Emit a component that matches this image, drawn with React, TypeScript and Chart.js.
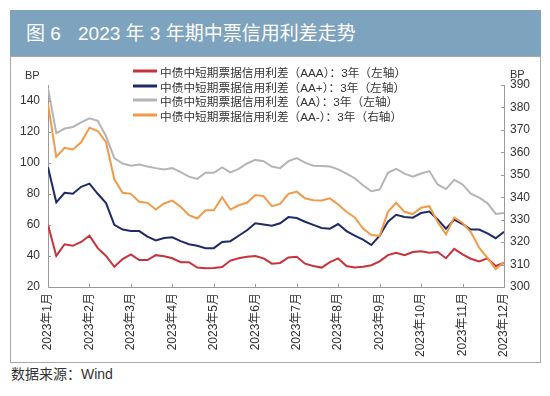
import React, { useEffect, useRef } from "react";
import { Chart, registerables } from "chart.js";

Chart.register(...registerables);

// x positions in month units (0 = 2023年1月, 11 = 2023年12月)
const monthLabels = [
  "2023年1月", "2023年2月", "2023年3月", "2023年4月", "2023年5月", "2023年6月",
  "2023年7月", "2023年8月", "2023年9月", "2023年10月", "2023年11月", "2023年12月",
];
const datePos = Array.from({ length: 56 }, (_, i) => i / 5);

// 中债中短期票据信用利差（AAA）：3年（左轴）
const aaa = [
  60, 40, 47.5, 46.5, 49, 53, 45, 40, 33, 38,
  41, 37.3, 37.3, 40.5, 39.8, 38.5, 36, 36, 32.5, 32,
  32.2, 32.8, 37, 38.5, 39.5, 40, 38.4, 35, 35.5, 39,
  39.5, 35, 33.5, 32.5, 36, 38.4, 33.5, 32.5, 33, 34,
  36.5, 40.5, 42, 40.5, 42.5, 43, 42, 42.5, 38.5, 44.5,
  41, 38.2, 36.5, 38.4, 33.5, 35.5,
];
// （AA+）：3年（左轴）
const aaPlus = [
  97, 74.5, 80.6, 80, 84.5, 86.5, 80, 74, 60, 57,
  56, 56, 52.4, 50, 51.5, 52, 49.5, 47.5, 46.5, 45,
  45, 49, 49.5, 53, 56.5, 61, 60.2, 59.5, 61, 65,
  64.4, 62, 60, 58, 57.5, 60.5, 56, 53, 50.5, 47,
  53, 62, 66.5, 65, 64.6, 67.6, 68.5, 63.5, 57.5, 63.3,
  60.5, 57, 57, 54.5, 51.4, 55.5,
];
// （AA）：3年（左轴）
const aa = [
  148, 119, 122, 123, 126, 128.5, 127, 117, 103, 99.5,
  98, 98.8, 97.5, 96.5, 95.7, 96.5, 94, 91, 89.6, 93.5,
  93.5, 97, 93.8, 96, 99.5, 101.8, 101, 97.5, 96.5, 101,
  103, 100, 98, 97.8, 97.5, 95.7, 93, 90, 85.5, 81.6,
  82.7, 93.5, 96, 93, 91, 93, 94.6, 86, 83, 89,
  86, 80, 77.5, 74, 67, 67.6,
];
// （AA-）：3年（右轴）
const aaMinus = [
  381.5, 358, 362, 361.3, 364.5, 371, 369.5, 364.5, 348, 342,
  341.5, 338, 337.5, 334.5, 337.2, 338.5, 335.7, 332, 330.5, 334.2,
  334.2, 340, 334.5, 336.4, 337.5, 341, 340.5, 336, 337, 341.5,
  342.5, 339.5, 338.7, 338.5, 339.5, 336.8, 333.5, 331, 326, 323.2,
  322.8, 333.5, 337.5, 333.5, 332.5, 335.3, 336, 329, 323.5, 331,
  328.5, 324.5, 317.5, 313, 308, 311,
];

const leftTicks = [20, 40, 60, 80, 100, 120, 140];
const rightTicks = [300, 310, 320, 330, 340, 350, 360, 370, 380, 390];

const seriesNames = [
  "中债中短期票据信用利差（AAA）：3年（左轴）",
  "中债中短期票据信用利差（AA+）：3年（左轴）",
  "中债中短期票据信用利差（AA）：3年（左轴）",
  "中债中短期票据信用利差（AA-）：3年（右轴）",
];
const colors = ["#c8323a", "#1f2a66", "#b5b5b5", "#f29a48"];

const FONT = '"Liberation Sans", "Noto Sans CJK SC", sans-serif';
const AXIS = "#9a9a9a";

const innerTicks = {
  id: "innerTicks",
  afterDatasetsDraw(chart: any) {
    const { ctx, chartArea: a, scales } = chart;
    ctx.save();
    ctx.strokeStyle = AXIS;
    ctx.lineWidth = 1;
    ctx.beginPath();
    scales.x.ticks.forEach((t: any) => {
      const px = Math.round(scales.x.getPixelForValue(t.value)) + 0.5;
      ctx.moveTo(px, a.bottom);
      ctx.lineTo(px, a.bottom - 3);
    });
    scales.y.ticks.forEach((t: any) => {
      const py = Math.round(scales.y.getPixelForValue(t.value)) + 0.5;
      ctx.moveTo(a.left, py);
      ctx.lineTo(a.left + 3, py);
    });
    scales.y1.ticks.forEach((t: any) => {
      const py = Math.round(scales.y1.getPixelForValue(t.value)) + 0.5;
      ctx.moveTo(a.right, py);
      ctx.lineTo(a.right - 3, py);
    });
    ctx.stroke();
    ctx.restore();
  },
};

export default function App() {
  const ref = useRef<HTMLCanvasElement | null>(null);

  useEffect(() => {
    if (!ref.current) return;
    const mk = (vals: number[]) => vals.map((v, i) => ({ x: datePos[i], y: v }));
    const tickFont = { family: FONT, size: 12 };
    const chart = new Chart(ref.current, {
      type: "line",
      data: {
        datasets: [
          { label: seriesNames[0], data: mk(aaa), yAxisID: "y", borderColor: colors[0], order: 1 },
          { label: seriesNames[1], data: mk(aaPlus), yAxisID: "y", borderColor: colors[1], order: 2 },
          { label: seriesNames[2], data: mk(aa), yAxisID: "y", borderColor: colors[2], order: 3 },
          { label: seriesNames[3], data: mk(aaMinus), yAxisID: "y1", borderColor: colors[3], order: 0 },
        ].map((d) => ({ ...d, borderWidth: 2, pointRadius: 0, tension: 0, fill: false })),
      },
      options: {
        animation: false,
        responsive: false,
        maintainAspectRatio: false,
        layout: { padding: { top: 28, left: 0, right: 0, bottom: 0 } },
        plugins: { legend: { display: false }, tooltip: { enabled: false } },
        scales: {
          x: {
            type: "linear",
            min: 0,
            max: 11,
            afterBuildTicks: (s: any) => {
              s.ticks = monthLabels.map((_, i) => ({ value: i }));
            },
            afterFit: (s: any) => {
              s.height = 75;
            },
            ticks: {
              callback: (v: any) => monthLabels[Math.round(Number(v))],
              minRotation: 90,
              maxRotation: 90,
              autoSkip: false,
              font: tickFont,
              color: "#333",
              padding: 6,
            },
            grid: { display: true, drawOnChartArea: false, drawTicks: false, color: AXIS },
            border: { display: true, color: AXIS, width: 1 },
          },
          y: {
            position: "left",
            min: 20,
            max: 150,
            afterBuildTicks: (s: any) => {
              s.ticks = leftTicks.map((v) => ({ value: v }));
            },
            afterFit: (s: any) => {
              s.width = 37;
            },
            ticks: { font: tickFont, color: "#333", padding: 8 },
            grid: { display: true, drawOnChartArea: false, drawTicks: false, color: AXIS },
            border: { display: true, color: AXIS, width: 1 },
          },
          y1: {
            position: "right",
            min: 300,
            max: 390,
            afterBuildTicks: (s: any) => {
              s.ticks = rightTicks.map((v) => ({ value: v }));
            },
            afterFit: (s: any) => {
              s.width = 36;
            },
            ticks: { font: tickFont, color: "#333", padding: 6 },
            grid: { display: true, drawOnChartArea: false, drawTicks: false, color: AXIS },
            border: { display: true, color: AXIS, width: 1 },
          },
        },
      } as any,
      plugins: [innerTicks],
    });
    return () => chart.destroy();
  }, []);

  const legendTops = [71, 85.5, 100, 114.5];

  return (
    <div style={{ position: "absolute", left: 0, top: 0, width: 550, height: 396, background: "#fff", fontFamily: FONT }}>
      <div
        style={{
          position: "absolute", left: 10, top: 10, width: 531, height: 46, background: "#7ea3bf",
          color: "#fff", fontSize: 19, lineHeight: "48px", whiteSpace: "nowrap",
        }}
      >
        <span style={{ position: "absolute", left: 16 }}>图 6</span>
        <span style={{ position: "absolute", left: 68 }}>2023 年 3 年期中票信用利差走势</span>
      </div>
      <div
        style={{
          position: "absolute", left: 10, top: 56, width: 529, height: 305,
          border: "1px solid #a8a8a8", borderTop: "1px solid #a8a8a8",
        }}
      />
      <canvas
        ref={ref}
        width={529}
        height={305}
        style={{ position: "absolute", left: 11, top: 57, width: 529, height: 305 }}
      />
      <div style={{ position: "absolute", left: 25, top: 75, transform: "translateY(-50%)", fontSize: 11, color: "#333" }}>BP</div>
      <div style={{ position: "absolute", left: 510, top: 74, transform: "translateY(-50%)", fontSize: 11, color: "#333" }}>BP</div>
      {seriesNames.map((n, i) => (
        <div
          key={n}
          style={{
            position: "absolute", left: 133, top: legendTops[i], transform: "translateY(-50%)",
            display: "flex", alignItems: "center", whiteSpace: "nowrap", fontSize: 11.7, color: "#333",
          }}
        >
          <span style={{ display: "inline-block", width: 24, height: 3, background: colors[i], marginRight: 3 }} />
          <span>{n}</span>
        </div>
      ))}
      <div style={{ position: "absolute", left: 11, top: 373, transform: "translateY(-50%)", fontSize: 14, color: "#333", whiteSpace: "nowrap" }}>
        数据来源：Wind
      </div>
    </div>
  );
}
